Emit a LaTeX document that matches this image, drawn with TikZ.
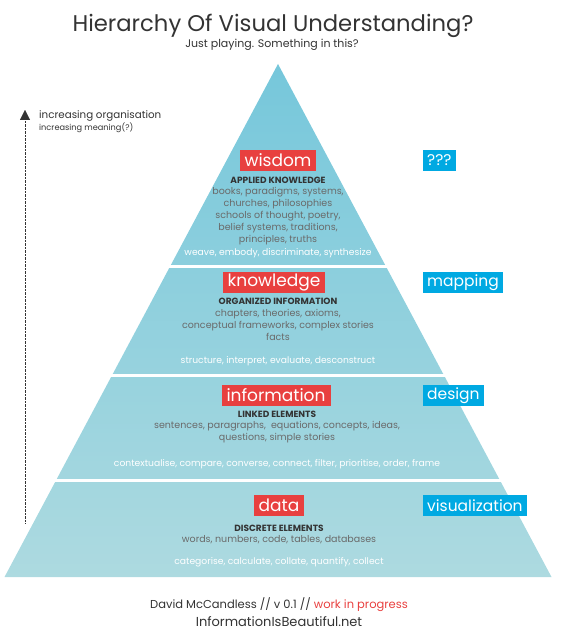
\documentclass[tikz,border=0pt]{standalone}
\usepackage{fontspec}
\setmainfont{Poppins}
\usetikzlibrary{arrows.meta}
\definecolor{boxred}{HTML}{E8403F}
\definecolor{boxblue}{HTML}{00A9E2}
\definecolor{layertop}{HTML}{76C7DB}
\definecolor{layerbot}{HTML}{ADDAE0}
\definecolor{inkdark}{HTML}{333333}
\definecolor{inkgray}{HTML}{6A6A6A}
\tikzset{
    levelbox/.style={fill=boxred, text=white, minimum height=21pt, inner xsep=5pt, inner ysep=0pt, font=\fontsize{17}{17}\selectfont},
    verbbox/.style={fill=boxblue, text=white, minimum height=21pt, inner xsep=4pt, inner ysep=0pt, anchor=west, font=\fontsize{15.5}{15.5}\selectfont},
    subhead/.style={text=inkdark, font=\fontsize{9}{9}\selectfont\bfseries},
    examples/.style={text=inkgray, align=center, font=\fontsize{9.5}{12}\selectfont},
    actions/.style={text=white, font=\fontsize{9.2}{9}\selectfont},
}
\begin{document}
\begin{tikzpicture}[x=1pt, y=-1pt]
    \useasboundingbox (0,0) rectangle (576,644);

    % Title
    \node[text=inkdark, font=\fontsize{22.7}{22.7}\selectfont] (title) at (273,26) {Hierarchy Of Visual Understanding?};
    \node[text=inkdark, font=\fontsize{11}{11}\selectfont] (subtitle) at (272,45) {Just playing. Something in this?};

    % Pyramid, cut into four layers
    \shade[top color=layertop, bottom color=layerbot] (278,64) -- (551.5,577) -- (4.5,577) -- cycle;
    \foreach \y in {266.5, 375.5, 480.5}
        \draw[white, line width=3pt] (0,\y) -- (576,\y);

    % Axis on the left
    \coordinate (axisbot) at (25,523);
    \coordinate (axistop) at (25,110);
    \draw[inkdark, densely dotted, -{Triangle[width=10pt, length=10pt, sep=0pt]}] (axisbot) -- (axistop);
    \node[anchor=west, text=inkdark, font=\fontsize{10.3}{10.3}\selectfont, inner sep=0pt] (org) at (39,116) {increasing organisation};
    \node[anchor=west, text=inkdark, font=\fontsize{8.2}{8.2}\selectfont, inner sep=0pt] (meaning) at (39,128) {increasing meaning(?)};

    % Wisdom
    \node[levelbox] (wisdom) at (278,160.5) {wisdom};
    \node[subhead] (wisdomsub) at (278,180) {APPLIED KNOWLEDGE};
    \node[examples] (wisdomex) at (278,216) {books, paradigms, systems,\\ churches, philosophies\\ schools of thought, poetry,\\ belief systems, traditions,\\ principles, truths};
    \node[actions] (wisdomact) at (278,253) {weave, embody, discriminate, synthesize};
    \node[verbbox] (wisdomverb) at (423,160.5) {???};

    % Knowledge
    \node[levelbox] (knowledge) at (274,282.5) {knowledge};
    \node[subhead] (knowledgesub) at (278,301) {ORGANIZED INFORMATION};
    \node[examples] (knowledgeex) at (278,325) {chapters, theories, axioms,\\ conceptual frameworks, complex stories\\ facts};
    \node[actions] (knowledgeact) at (278,361) {structure, interpret, evaluate, desconstruct};
    \node[verbbox] (knowledgeverb) at (423,282.5) {mapping};

    % Information
    \node[levelbox] (information) at (276,395.5) {information};
    \node[subhead] (informationsub) at (277,414) {LINKED ELEMENTS};
    \node[examples] (informationex) at (277,432.5) {sentences, paragraphs,~~equations, concepts, ideas,\\ questions, simple stories};
    \node[actions] (informationact) at (277,464) {contextualise, compare, converse, connect, filter, prioritise, order, frame};
    \node[verbbox] (informationverb) at (423,395.5) {design};

    % Data
    \node[levelbox] (data) at (279,505.5) {data};
    \node[subhead] (datasub) at (279,528) {DISCRETE ELEMENTS};
    \node[examples] (dataex) at (279,540) {words, numbers, code, tables, databases};
    \node[actions] (dataact) at (279,562) {categorise, calculate, collate, quantify, collect};
    \node[verbbox] (dataverb) at (423,505.5) {visualization};

    % Credits
    \node[text=inkdark, font=\fontsize{11.5}{11.5}\selectfont] (credit) at (279,605) {David McCandless // v 0.1 // \textcolor{boxred}{work in progress}};
    \node[text=inkdark, font=\fontsize{13}{13}\selectfont] (site) at (279,622) {InformationIsBeautiful.net};
\end{tikzpicture}
\end{document}
